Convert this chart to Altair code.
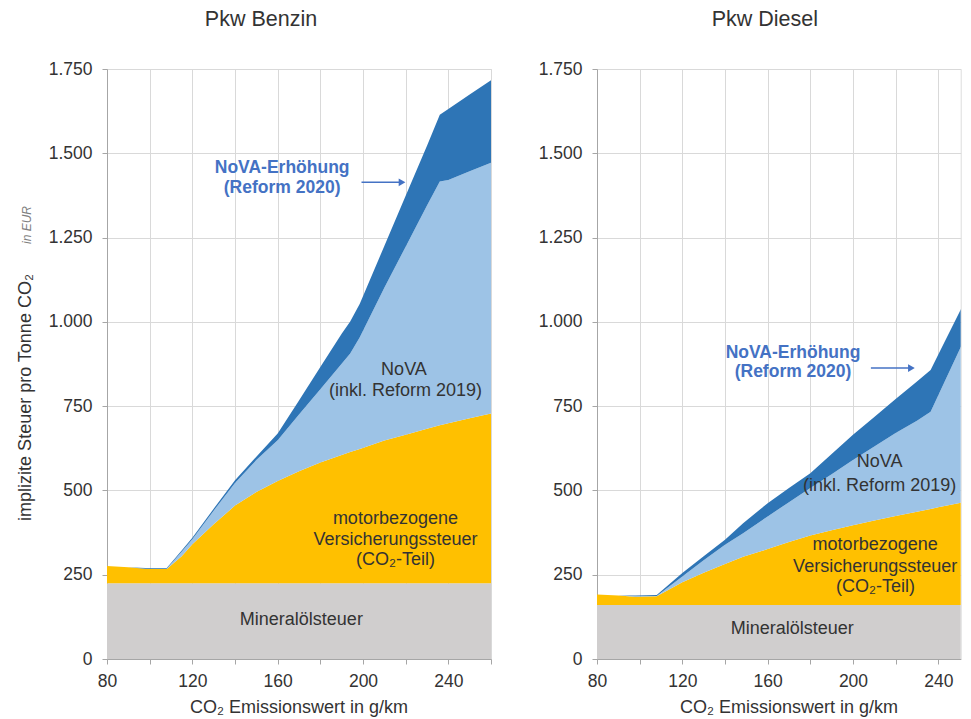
import altair as alt
import pandas as pd

FONT = "Liberation Sans"
TXT = "#333333"
BLUE_TXT = "#4472c4"

series = ["Mineralölsteuer", "motorbezogene Versicherungssteuer", "NoVA (inkl. Reform 2019)", "NoVA-Erhöhung (Reform 2020)"]
colors = ["#d0cece", "#ffc000", "#9dc3e6", "#2e75b6"]

# ---- Pkw Benzin (values in EUR per tonne CO2, per component) ----
x_benzin = [80, 90, 98, 108, 115, 120, 130, 140, 150, 160, 170, 180, 190, 194, 198.5, 210, 220, 230, 236, 240, 250, 260]
mineral_benzin = [225, 225, 225, 225, 225, 225, 225, 225, 225, 225, 225, 225, 225, 225, 225, 225, 225, 225, 225, 225, 225, 225]
motor_benzin = [51, 47, 43, 42, 80, 115, 175, 230, 270, 303, 332, 358, 380, 389, 398, 423, 440, 458, 468, 474, 489, 503]
nova_benzin = [0, 0, 0, 1, 13, 15, 40, 67, 95, 121, 168, 217, 271, 292, 331, 453, 558, 662, 723, 722, 733, 744]
erh_benzin = [0, 0, 2, 2, 4, 5, 6, 8, 10, 20, 42, 66, 89, 95, 100, 124, 151, 177, 198, 210, 227, 245]

# ---- Pkw Diesel ----
x_diesel = [80, 90, 98, 108, 120, 130, 140, 148.5, 160, 170, 180, 190, 200, 210, 220, 230, 236.4, 240, 250, 255]
mineral_diesel = [160, 160, 160, 160, 160, 160, 160, 160, 160, 160, 160, 160, 160, 160, 160, 160, 160, 160, 160, 160]
motor_diesel = [31, 28, 25, 26, 68, 96, 122, 143, 166, 187, 206, 222, 237, 251, 264, 277, 285, 290, 303, 310]
nova_diesel = [0, 0, 1, 1, 17, 37, 57, 70, 97, 118, 141, 166, 193, 219, 246, 270, 288, 332, 455, 515]
erh_diesel = [0, 0, 2, 3, 10, 12, 15, 30, 39, 42, 44, 60, 75, 88, 101, 116, 124, 121, 112, 108]

y_ticks = [0, 250, 500, 750, 1000, 1250, 1500, 1750]
x_ticks_benzin = [80, 100, 120, 140, 160, 180, 200, 220, 240, 260]
x_ticks_diesel = [80, 100, 120, 140, 160, 180, 200, 220, 240]

# annotations (data coordinates)
ann_benzin = pd.DataFrame({
    "x": [219.2, 219.9, 215.2, 215.2, 215.2, 171.1],
    "y": [858, 795, 416, 352, 294, 115],
    "t": ["NoVA", "(inkl. Reform 2019)", "motorbezogene", "Versicherungssteuer", "(CO₂-Teil)", "Mineralölsteuer"],
})
ann_diesel = pd.DataFrame({
    "x": [212.5, 212.5, 210.4, 210.4, 210.6, 171.5],
    "y": [584, 514, 337, 273, 214, 90],
    "t": ["NoVA", "(inkl. Reform 2019)", "motorbezogene", "Versicherungssteuer", "(CO₂-Teil)", "Mineralölsteuer"],
})
erh_lab_benzin = pd.DataFrame({"x": [162.1, 162.1], "y": [1456, 1397], "t": ["NoVA-Erhöhung", "(Reform 2020)"]})
erh_lab_diesel = pd.DataFrame({"x": [171.9, 171.9], "y": [909, 850], "t": ["NoVA-Erhöhung", "(Reform 2020)"]})
arrow_benzin = pd.DataFrame({"x": [199.3], "x2": [217.5], "y": [1414], "tip": [218.3]})
arrow_diesel = pd.DataFrame({"x": [208.4], "x2": [226.6], "y": [863], "tip": [227.4]})


def make_df(xs, comps):
    rows = []
    for k, (name, vals) in enumerate(zip(series, comps)):
        for xv, v in zip(xs, vals):
            rows.append({"x": xv, "series": name, "value": v, "k": k})
    return pd.DataFrame(rows)


def panel(title, dx, xs, comps, domain_max, xticks, ann, erh_lab, arrow, width, ytitle):
    df = make_df(xs, comps)
    xscale = alt.Scale(domain=[80, domain_max], nice=False, zero=False)
    yscale = alt.Scale(domain=[0, 1750], nice=False)
    xaxis = alt.Axis(
        values=xticks, labelExpr="datum.value % 40 == 0 ? datum.value : ''",
        title="CO₂ Emissionswert in g/km", grid=True, gridColor="#d9d9d9", gridWidth=1,
        domainColor="#a6a6a6", tickColor="#a6a6a6", tickSize=5,
        labelFont=FONT, labelFontSize=17.5, labelColor=TXT, labelPadding=8,
        labelFlush=False, labelOverlap=False,
        titleFont=FONT, titleFontSize=18, titleFontWeight="normal", titleColor=TXT,
        titleX=191.5, titleY=48, titleBaseline="middle", titleAlign="center",
    )
    yargs = dict(
        values=y_ticks, labelExpr="replace(format(datum.value, ','), ',', '.')",
        grid=True, gridColor="#d9d9d9", gridWidth=1,
        domainColor="#a6a6a6", tickColor="#a6a6a6", tickSize=5,
        labelFont=FONT, labelFontSize=17.5, labelColor=TXT, labelPadding=10,
        labelOverlap=False,
    )
    if ytitle:
        yaxis = alt.Axis(
            title=ytitle, titleFont=FONT, titleFontSize=18, titleFontWeight="normal",
            titleColor=TXT, titleAngle=270, titleX=-82, titleY=328,
            titleBaseline="middle", titleAlign="center", **yargs)
    else:
        yaxis = alt.Axis(title=None, **yargs)

    area = alt.Chart(df).mark_area(clip=True, interpolate="linear").encode(
        x=alt.X("x:Q", scale=xscale, axis=xaxis),
        y=alt.Y("value:Q", stack="zero", scale=yscale, axis=yaxis),
        color=alt.Color("series:N", scale=alt.Scale(domain=series, range=colors), legend=None),
        order=alt.Order("k:Q", sort="ascending"),
    )
    texts = alt.Chart(ann).mark_text(
        font=FONT, fontSize=18, color=TXT, align="center", baseline="middle", clip=True
    ).encode(x=alt.X("x:Q", scale=xscale), y=alt.Y("y:Q", scale=yscale), text="t:N")
    erh = alt.Chart(erh_lab).mark_text(
        font=FONT, fontSize=17.5, fontWeight="bold", color=BLUE_TXT, align="center", baseline="middle"
    ).encode(x=alt.X("x:Q", scale=xscale), y=alt.Y("y:Q", scale=yscale), text="t:N")
    rule = alt.Chart(arrow).mark_rule(color=BLUE_TXT, strokeWidth=1.5).encode(
        x=alt.X("x:Q", scale=xscale), x2="x2:Q", y=alt.Y("y:Q", scale=yscale))
    head = alt.Chart(arrow).mark_point(shape="triangle-right", filled=True, color=BLUE_TXT, size=60, opacity=1).encode(
        x=alt.X("tip:Q", scale=xscale), y=alt.Y("y:Q", scale=yscale))
    layers = [area, texts, erh, rule, head]
    if ytitle:
        ineur = alt.Chart(pd.DataFrame({"t": ["in EUR"]})).mark_text(
            font=FONT, fontSize=12, fontStyle="italic", color="#7f7f7f", angle=270,
            align="center", baseline="middle"
        ).encode(x=alt.value(-80), y=alt.value(156), text="t:N")
        layers.append(ineur)
    return alt.layer(*layers).properties(
        width=width, height=590,
        title=alt.Title(title, font=FONT, fontSize=21.5, fontWeight="normal", color=TXT,
                        anchor="middle", frame="group", dx=dx, offset=30),
    )


left = panel("Pkw Benzin", -38, x_benzin,
             [mineral_benzin, motor_benzin, nova_benzin, erh_benzin],
             260, x_ticks_benzin, ann_benzin, erh_lab_benzin, arrow_benzin, 384,
             "implizite  Steuer pro Tonne CO₂")
right = panel("Pkw Diesel", -14, x_diesel,
              [mineral_diesel, motor_diesel, nova_diesel, erh_diesel],
              250.5, x_ticks_diesel, ann_diesel, erh_lab_diesel, arrow_diesel, 363.7, None)

chart = alt.hconcat(left, right, spacing=45).properties(
    padding={"left": 7, "top": 0, "right": 0, "bottom": 0}
).configure_view(stroke=None).configure(background="white")

chart.save("out.html", embed_options={"renderer": "svg", "actions": False})
